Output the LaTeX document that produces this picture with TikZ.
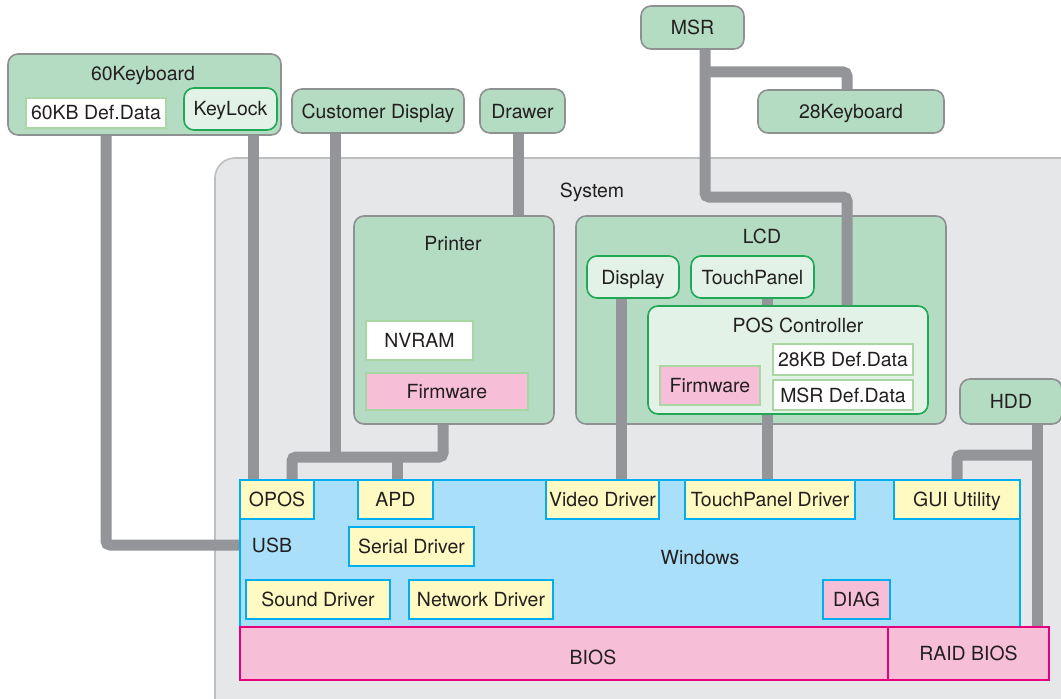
\documentclass[tikz,border=0pt]{standalone}
\usepackage{fontspec}
\setmainfont{TeX Gyre Heros}
\usetikzlibrary{fit}
\definecolor{sysfill}{HTML}{E6E7E8}
\definecolor{sysline}{HTML}{BCBEC0}
\definecolor{devfill}{HTML}{B3DCC2}
\definecolor{devline}{HTML}{8E9092}
\definecolor{subfill}{HTML}{E2F2E7}
\definecolor{subline}{HTML}{1FA855}
\definecolor{dataline}{HTML}{A9D6A2}
\definecolor{pinkfill}{HTML}{F6BFD7}
\definecolor{biosline}{HTML}{E6007E}
\definecolor{winfill}{HTML}{A9DFF8}
\definecolor{winline}{HTML}{00AEEF}
\definecolor{drvfill}{HTML}{FFF9C2}
\definecolor{busgray}{HTML}{939598}
\definecolor{txt}{HTML}{231F20}
\begin{document}
\begin{tikzpicture}[x=0.75pt,y=-0.75pt,
	every node/.style={inner sep=0pt,text=txt,text height=10.5pt,text depth=0pt,font=\fontsize{14.6}{16}\selectfont},
	sysbox/.style={draw=sysline,fill=sysfill,line width=1.2pt,rounded corners=15pt},
	devbox/.style={draw=devline,fill=devfill,line width=1.2pt,rounded corners=7.5pt},
	subbox/.style={draw=subline,fill=subfill,line width=1.2pt,rounded corners=7.5pt},
	databox/.style={draw=dataline,fill=white,line width=1.2pt},
	fwbox/.style={draw=dataline,fill=pinkfill,line width=1.2pt},
	winbox/.style={draw=winline,fill=winfill,line width=1.2pt},
	drvbox/.style={draw=winline,fill=drvfill,line width=1.2pt},
	diagbox/.style={draw=winline,fill=pinkfill,line width=1.2pt},
	biosbox/.style={draw=biosline,fill=pinkfill,line width=1.2pt},
	bus/.style={draw=busgray,line width=8.25pt,rounded corners=3pt}]
	\useasboundingbox (0,0) rectangle (1061,699);
	\node[sysbox,fit={(215,158)(1090,730)}] (sys) {};
	\node (syst) at (592,190) {System};
	% devices outside the system
	\node[devbox,fit={(8,54)(281,135)}] (kb60) {};
	\node (kb60t) at (143,74) {60Keyboard};
	\node[databox,fit={(26,98)(166,128)},label=center:60KB Def.Data] (kbdata) {};
	\node[subbox,fit={(184,88)(277,130)},label=center:KeyLock] (keylock) {};
	\foreach \nm/\xa/\ya/\xb/\yb/\txt in {cdisp/292/89/464/133/Customer Display,drawer/480/89/565/133/Drawer,
		msr/641/6/744/49/MSR,kb28/758/90/944/133/28Keyboard,hdd/960/379/1062/424/HDD}
		\node[devbox,fit={(\xa,\ya)(\xb,\yb)},label=center:\txt] (\nm) {};
	% printer and LCD
	\node[devbox,fit={(354,216)(554,424)}] (printer) {};
	\node (printert) at (453,243) {Printer};
	\node[databox,fit={(366,321)(473,360)},label=center:NVRAM] (nvram) {};
	\node[fwbox,fit={(366,373)(528,410)},label=center:Firmware] (prfw) {};
	\node[devbox,fit={(576,216)(946,424)}] (lcd) {};
	\node (lcdt) at (762,236) {LCD};
	\node[subbox,fit={(587,256)(679,298)},label=center:Display] (display) {};
	\node[subbox,fit={(691,256)(814,298)},label=center:TouchPanel] (tpanel) {};
	\node[subbox,fit={(648,306)(928,414)}] (posc) {};
	\node (posct) at (798,325) {POS Controller};
	\node[databox,fit={(773,344)(913,375)},label=center:28KB Def.Data] (kb28data) {};
	\node[databox,fit={(773,380)(913,410)},label=center:MSR Def.Data] (msrdata) {};
	\node[fwbox,fit={(660,366)(760,405)},label=center:Firmware] (posfw) {};
	% windows and bios
	\node[winbox,fit={(240,480)(1020,627)}] (win) {};
	\node (wint) at (700,557) {Windows};
	\node (usb) at (272,545) {USB};
	\foreach \nm/\xa/\ya/\xb/\yb/\txt in {opos/240/480/314/519/OPOS,apd/358/480/433/519/APD,
		vdrv/546/480/659/519/Video Driver,tpdrv/685/480/855/519/TouchPanel Driver,
		gui/894/480/1020/519/GUI Utility,serial/349/527/474/566/Serial Driver,
		sound/246/580/390/619/Sound Driver,net/409/580/553/619/Network Driver}
		\node[drvbox,fit={(\xa,\ya)(\xb,\yb)},label=center:\txt] (\nm) {};
	\node[diagbox,fit={(823,580)(890,619)},label=center:DIAG] (diag) {};
	\node[biosbox,fit={(240,627)(888,680)}] (bios) {};
	\node (biost) at (593,657) {BIOS};
	\node[biosbox,fit={(888,627)(1049,680)},label=center:RAID BIOS] (raid) {};
	% cables
	\draw[bus] (kb60.south -| 106,0) |- (usb -| win.west);
	\draw[bus] (kb60.south -| 253,0) -- (opos.north -| 253,0);
	\draw[bus] (printer.south -| 443,0) |- (335,457) -| (opos.north -| 292,0);
	\draw[bus] (cdisp.south -| 335,0) -- (335,457);
	\draw[bus] (apd.north -| 397,0) -- (397,457);
	\draw[bus] (drawer.south -| 518,0) -- (printer.north -| 518,0);
	\draw[bus] (msr.south -| 705,0) -- (705,197) -| (posc.north -| 847,0);
	\draw[bus] (705,72) -| (kb28.north -| 847,0);
	\draw[bus] (display.south -| 621,0) -- (vdrv.north -| 621,0);
	\draw[bus] (tpanel.south -| 767,0) -- (posc.north -| 767,0);
	\draw[bus] (posc.south -| 767,0) -- (tpdrv.north -| 767,0);
	\draw[bus] (hdd.south -| 1037,0) -- (raid.north -| 1037,0);
	\draw[bus] (1037,455) -| (gui.north -| 957,0);
\end{tikzpicture}
\end{document}
